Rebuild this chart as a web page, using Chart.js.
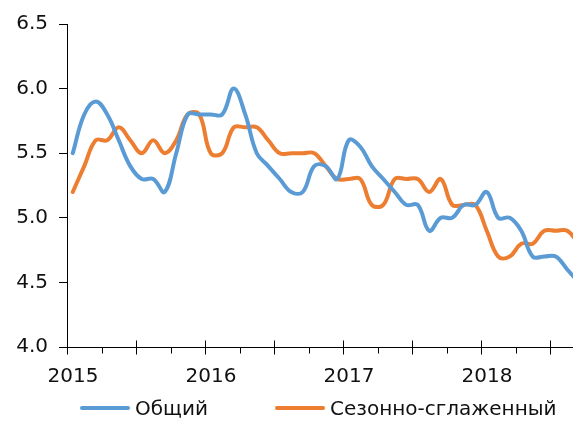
<!DOCTYPE html>
<html>
<head>
<meta charset="utf-8">
<script src="https://cdn.jsdelivr.net/npm/chart.js@4.4.0/dist/chart.umd.min.js"></script>
<style>
  html, body { margin: 0; padding: 0; background: #fff; }
  #wrap { position: relative; width: 573px; height: 421px; }
  #legend {
    position: absolute; left: 0; top: 396px; width: 573px; height: 24px;
    font: 20px "DejaVu Sans", sans-serif; color: #111;
  }
  .item { position: absolute; top: 0; height: 24px; display: flex; align-items: center; white-space: nowrap; }
  .swatch { width: 50px; height: 4px; margin-right: 5px; border-radius: 2px; }
</style>
</head>
<body>
<div id="wrap">
  <canvas id="chart" width="573" height="421"></canvas>
  <div id="legend"></div>
</div>
<script>
// data, monthly from Jan 2015
const years = ['2015', '2016', '2017', '2018'];
const seriesNames = ['Общий', 'Сезонно-сглаженный'];
const seriesColors = ['#5B9BD5', '#ED7D31'];

const overall = [
  5.5, 5.8, 5.9, 5.8, 5.6, 5.4, 5.3, 5.3, 5.2, 5.5, 5.8, 5.8,
  5.8, 5.8, 6.0, 5.8, 5.5, 5.4, 5.3, 5.2, 5.2, 5.4, 5.4, 5.3,
  5.6, 5.55, 5.4, 5.3, 5.2, 5.1, 5.1, 4.9, 5.0, 5.0, 5.1, 5.1,
  5.2, 5.0, 5.0, 4.9, 4.7, 4.7, 4.7, 4.6, 4.5
];
const seasonal = [
  5.2, 5.4, 5.6, 5.6, 5.7, 5.6, 5.5, 5.6, 5.5, 5.6, 5.8, 5.8,
  5.5, 5.5, 5.7, 5.7, 5.7, 5.6, 5.5, 5.5, 5.5, 5.5, 5.4, 5.3,
  5.3, 5.3, 5.1, 5.1, 5.3, 5.3, 5.3, 5.2, 5.3, 5.1, 5.1, 5.1,
  4.9, 4.7, 4.7, 4.8, 4.8, 4.9, 4.9, 4.9, 4.8
];

const toPoints = arr => arr.map((v, i) => ({ x: i + 0.5, y: v }));

// x axis tick marks: long ones every half year, short ones every quarter
const tickMarks = {
  id: 'tickMarks',
  afterDraw(chart) {
    const sx = chart.scales.x;
    const y0 = Math.round(chart.scales.y.bottom) + 0.5;
    const ctx = chart.ctx;
    ctx.save();
    ctx.strokeStyle = '#000';
    ctx.lineWidth = 1;
    sx.ticks.forEach(t => {
      const x = Math.round(sx.getPixelForValue(t.value)) + 0.5;
      const major = t.value % 6 === 0;
      ctx.beginPath();
      ctx.moveTo(x, major ? y0 - 7 : y0);
      ctx.lineTo(x, y0 + (major ? 7 : 6));
      ctx.stroke();
    });
    ctx.restore();
  }
};

const font = { family: '"DejaVu Sans", sans-serif', size: 20 };

new Chart(document.getElementById('chart'), {
  type: 'line',
  data: {
    datasets: [
      { label: seriesNames[0], data: toPoints(overall), borderColor: seriesColors[0] },
      { label: seriesNames[1], data: toPoints(seasonal), borderColor: seriesColors[1] }
    ]
  },
  options: {
    responsive: false,
    animation: false,
    layout: { padding: { top: 24, left: 0, right: 0, bottom: 32 } },
    elements: {
      line: { borderWidth: 4, tension: 0.4, fill: false, borderCapStyle: 'round' },
      point: { radius: 0 }
    },
    plugins: { legend: { display: false }, tooltip: { enabled: false } },
    scales: {
      x: {
        type: 'linear',
        min: 0,
        max: 44,
        afterBuildTicks: s => {
          const t = [];
          for (let v = 0; v <= 42; v += 3) t.push({ value: v });
          s.ticks = t;
        },
        afterFit: s => { s.height = 42; },
        grid: { display: false, drawTicks: false },
        border: { display: true, color: '#000', width: 1 },
        ticks: {
          autoSkip: false,
          maxRotation: 0,
          padding: 18,
          labelOffset: 6,
          color: '#111',
          font,
          callback: v => (v % 12 === 0 ? years[v / 12] : '')
        }
      },
      y: {
        min: 4,
        max: 6.5,
        afterFit: s => { s.width = 67; },
        grid: { drawOnChartArea: false, tickLength: 8, color: '#000' },
        border: { display: true, color: '#000', width: 1 },
        ticks: {
          stepSize: 0.5,
          padding: 11,
          color: '#111',
          font,
          callback: v => v.toFixed(1)
        }
      }
    }
  },
  plugins: [tickMarks]
});

// legend
const legendLeft = [80, 275];
const legend = document.getElementById('legend');
seriesNames.forEach((name, i) => {
  const item = document.createElement('div');
  item.className = 'item';
  item.style.left = legendLeft[i] + 'px';
  const sw = document.createElement('div');
  sw.className = 'swatch';
  sw.style.background = seriesColors[i];
  const label = document.createElement('span');
  label.textContent = name;
  item.appendChild(sw);
  item.appendChild(label);
  legend.appendChild(item);
});
</script>
</body>
</html>
